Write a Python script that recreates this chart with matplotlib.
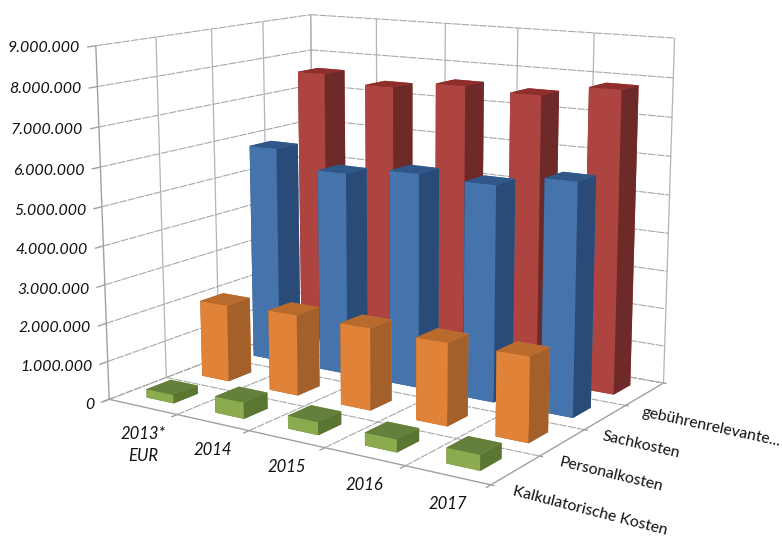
import numpy as np
import matplotlib
matplotlib.use("Agg")
import matplotlib.pyplot as plt
from mpl_toolkits.mplot3d.art3d import Line3DCollection

plt.rcParams['font.family'] = ['Lato', 'DejaVu Sans']

years = ["2013*\nEUR", "2014", "2015", "2016", "2017"]
series = ["Kalkulatorische Kosten", "Personalkosten", "Sachkosten", "gebührenrelevante..."]
kalk = [220000, 420000, 330000, 320000, 380000]
personal = [2050000, 2120000, 2120000, 2100000, 2120000]
sach = [5850000, 5410000, 5630000, 5580000, 5900000]
geb = [7600000, 7400000, 7600000, 7530000, 7840000]
values = [kalk, personal, sach, geb]
zticks = [0, 1000000, 2000000, 3000000, 4000000, 5000000, 6000000, 7000000, 8000000, 9000000]
zlabels = ["0", "1.000.000", "2.000.000", "3.000.000", "4.000.000", "5.000.000",
           "6.000.000", "7.000.000", "8.000.000", "9.000.000"]
colors = [("#8CAB4E", "#5B7631", "#64803A"),
          ("#E08238", "#A3602A", "#B86B2C"),
          ("#4474AB", "#2A4B78", "#2F5788"),
          ("#AE4440", "#6E2A28", "#8E2F2C")]

W, H = 782, 536
nx, ny, zmax = len(years), len(series), zticks[-1]

# Camera calibration: reference points of the chart box (x, y, z in millions) -> pixel position
calib = [
    (0, 0, 0, 108, 398), (1, 0, 0, 177, 415), (2, 0, 0, 248, 432), (3, 0, 0, 325, 448),
    (5, 0, 0, 492, 484), (5, 4, 0, 662, 383), (0, 4, 0, 317, 321), (0, 1, 0, 165, 378),
    (0, 0, 9, 97, 46), (0, 1, 9, 156, 37), (0, 2, 9, 211, 29), (0, 3, 9, 262, 21),
    (0, 4, 9, 310, 15), (1, 4, 9, 376, 19), (2, 4, 9, 445, 23), (3, 4, 9, 518, 28),
    (4, 4, 9, 594, 33), (5, 4, 9, 675, 38), (5, 4, 8, 674, 78), (0, 0, 1, 108, 361),
    (0, 0, 2, 107, 323), (0, 0, 8, 98, 87),
]
A = []
for x, y, z, u, v in calib:
    X = [x / nx, y / ny, z / 9, 1]
    A.append(X + [0, 0, 0, 0] + [-u * c for c in X])
    A.append([0, 0, 0, 0] + X + [-v * c for c in X])
P = np.linalg.svd(np.array(A, float))[2][-1].reshape(3, 4)
if P[2] @ [0.5, 0.5, 0.5, 1] < 0:
    P = -P
P = P @ np.diag([1 / nx, 1 / ny, 1 / zmax, 1])

fig = plt.figure(figsize=(W / 100, H / 100), dpi=100)
ax = fig.add_axes([0, 0, 1, 1], projection='3d')
ax.computed_zorder = False
ax.set_xlim(0, nx); ax.set_ylim(0, ny); ax.set_zlim(0, zmax)
ax.set_axis_off()


def fitted_proj():
    ax.apply_aspect()
    inv = ax.transData.inverted().get_matrix()
    flip = np.array([[1, 0, 0], [0, -1, H], [0, 0, 1.0]])
    Q = inv @ flip @ P
    w0 = P[2] @ [nx / 2, ny / 2, zmax / 2, 1]
    depth = np.array([-1 / nx, 1 / ny, -1 / zmax, 5]) * w0
    return np.array([Q[0], Q[1], depth, Q[2]])


ax.get_proj = fitted_proj

vert, horiz, edge = [], [], []
for z in zticks:
    horiz.append([(0, 0, z), (0, ny, z)])
    horiz.append([(0, ny, z), (nx, ny, z)])
    edge.append([(0, 0, z), (0, -0.14, z)])
for j in range(ny + 1):
    (edge if j == 0 else vert).append([(0, j, 0), (0, j, zmax)])
    (edge if j == 0 else horiz).append([(0, j, 0), (nx, j, 0)])
    edge.append([(nx, j, 0), (nx + 0.04, j, 0)])
for i in range(nx + 1):
    vert.append([(i, ny, 0), (i, ny, zmax)])
    (edge if i == nx else horiz).append([(i, 0, 0), (i, ny, 0)])
    edge.append([(i, 0, 0), (i, -0.1, 0)])
for segs, kw in ((vert, dict(colors="#B4B4B4", linewidths=0.9, zorder=1)),
                 (horiz, dict(colors="#A8A8A8", linewidths=0.8, linestyles=[(0, (7, 1))], zorder=1)),
                 (edge, dict(colors="#A0A0A0", linewidths=1.0, zorder=2))):
    coll = Line3DCollection(segs, **kw)
    ax.add_collection3d(coll, autolim=False)
    coll.set_clip_on(False)

wx, wy = 0.40, 0.43
order = 10
for j in range(ny - 1, -1, -1):
    for i in range(nx):
        c = colors[j]
        ax.bar3d(i + 0.512 - wx / 2, j + 0.5 - wy / 2, 0, wx, wy, values[j][i],
                 color=[c[1], c[2], c[0], c[0], c[1], c[1]], shade=False,
                 zorder=order, edgecolor=None, linewidth=0)
        order += 1

for z, lab in zip(zticks, zlabels):
    ax.text(0, -0.25, z, lab, ha='right', va='center', fontsize=11.4, style='italic', color="#111111")
for i, lab in enumerate(years):
    ax.text(i + 0.5, 0, -500000, lab, ha='center', va='top', fontsize=12, style='italic',
            color="#111111", linespacing=1.5)
for j, lab in enumerate(series):
    ax.text(nx - 0.03, j + 0.5, -510000, lab, zdir=(1, -0.07, 0), ha='left', va='center',
            rotation_mode='anchor', fontsize=11.3, color="#111111")

fig.savefig("out.png", dpi=100)
